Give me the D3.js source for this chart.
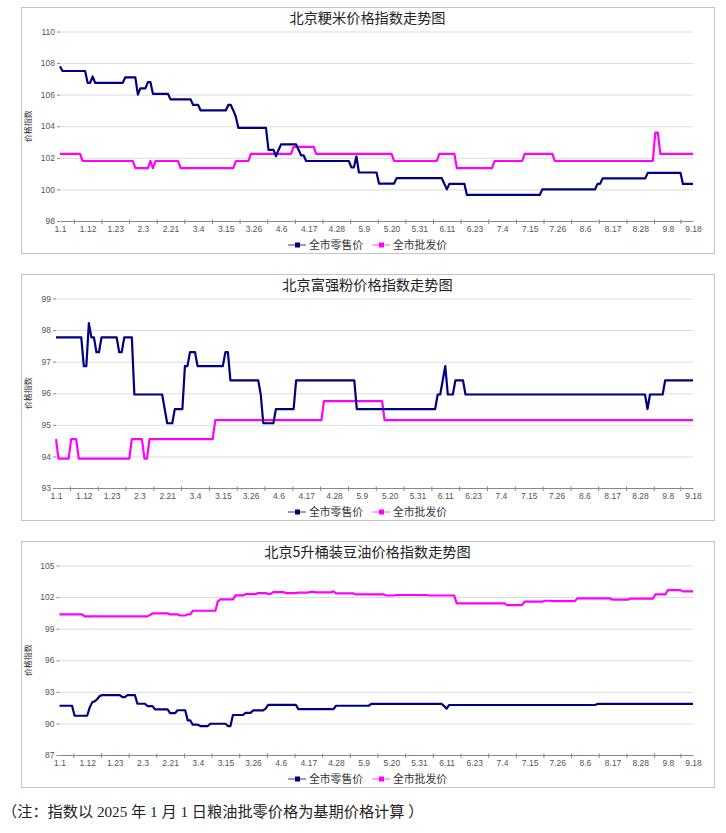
<!DOCTYPE html>
<html>
<head>
<meta charset="utf-8">
<script src="https://cdn.jsdelivr.net/npm/d3@7"></script>
<style>
  body { margin: 0; background: #fff; }
  svg { display: block; }
  .tick text { font-family: "Liberation Sans", Arial, sans-serif; }
</style>
</head>
<body>
<svg id="chart" width="726" height="833"></svg>
<script>
// x axis labels and the day index (0..252) they sit on
const tickLabels = ['1.1', '1.12', '1.23', '2.3', '2.21', '3.4', '3.15', '3.26', '4.6', '4.17', '4.28', '5.9',
  '5.20', '5.31', '6.11', '6.23', '7.4', '7.15', '7.26', '8.6', '8.17', '8.28', '9.8', '9.18'];
const tickIndex = [0, 11, 22, 33, 44, 55, 66, 77, 88, 99, 110, 121, 132, 143, 154, 165, 176, 187, 198, 209, 220, 231, 242, 252];

const seriesNames = ['全市零售价', '全市批发价'];

// series: [index value, number of days]
const riceRetail = [[107.8, 1], [107.5, 10], [106.75, 2], [107.15, 1], [106.75, 12], [107.1, 5], [106.0, 1],
  [106.4, 3], [106.8, 2], [106.05, 7], [105.7, 9], [105.35, 3], [105.0, 11], [105.35, 2], [105.0, 1], [104.6, 1],
  [103.9, 12], [102.5, 3], [102.1, 1], [102.5, 1], [102.85, 7], [102.5, 1], [102.15, 2], [101.8, 18], [101.4, 2],
  [102.1, 1], [101.07, 8], [100.37, 7], [100.71, 19], [100.35, 1], [100.0, 1], [100.35, 7], [99.65, 30],
  [100.0, 22], [100.35, 2], [100.7, 18], [101.05, 14], [100.35, 5]];
const riceWholesale = [[102.25, 9], [101.8, 21], [101.35, 6], [101.8, 1], [101.35, 1], [101.8, 10], [101.35, 22],
  [101.8, 6], [102.25, 17], [102.7, 9], [102.25, 31], [101.8, 18], [102.25, 7], [101.35, 15], [101.8, 12],
  [102.25, 12], [101.8, 40], [103.6, 2], [102.25, 14]];

const flourRetail = [[97.77, 11], [96.86, 2], [98.22, 1], [97.77, 2], [97.3, 2], [97.77, 7], [97.3, 2], [97.77, 4],
  [95.96, 12], [95.5, 1], [95.05, 3], [95.5, 4], [96.86, 2], [97.3, 3], [96.86, 11], [97.3, 2], [96.41, 12],
  [95.96, 1], [95.05, 5], [95.5, 8], [96.41, 24], [95.5, 32], [95.96, 2], [96.41, 1], [96.86, 1], [95.96, 3],
  [96.41, 4], [95.96, 72], [95.5, 1], [95.96, 6], [96.41, 12]];
const flourWholesale = [[94.55, 1], [93.93, 5], [94.55, 3], [93.93, 21], [94.55, 5], [93.93, 2], [94.55, 26],
  [95.15, 43], [95.75, 24], [95.15, 123]];

const oilRetail = [[91.68, 6], [90.73, 6], [91.5, 1], [92.0, 1], [92.1, 1], [92.3, 1], [92.6, 1], [92.69, 8],
  [92.5, 2], [92.69, 4], [91.87, 4], [91.65, 3], [91.33, 6], [90.98, 3], [91.25, 4], [90.29, 2], [89.88, 3],
  [89.75, 4], [89.97, 7], [89.75, 2], [90.8, 5], [91.0, 3], [91.23, 5], [91.4, 1], [91.77, 12], [91.36, 15],
  [91.68, 14], [91.85, 29], [91.65, 1], [91.4, 1], [91.75, 59], [91.85, 39]];
const oilWholesale = [[100.36, 10], [100.17, 26], [100.3, 1], [100.45, 7], [100.36, 4], [100.25, 3], [100.36, 2],
  [100.7, 10], [101.6, 1], [101.78, 6], [102.16, 4], [102.28, 5], [102.38, 4], [102.3, 2], [102.47, 5],
  [102.38, 5], [102.43, 5], [102.5, 2], [102.45, 7], [102.55, 1], [102.35, 8], [102.25, 12], [102.15, 4],
  [102.2, 13], [102.15, 11], [101.4, 20], [101.24, 7], [101.56, 8], [101.65, 3], [101.62, 10], [101.87, 14],
  [101.75, 7], [101.85, 10], [102.25, 5], [102.66, 6], [102.54, 5]];

const COLORS = ['#000080', '#ff00ff'];
const LEGEND_LINE = ['#7a7ab8', '#ff8cff'];

const charts = [
  { title: '北京粳米价格指数走势图', top: 7, left: 60, yTicks: [98, 100, 102, 104, 106, 108, 110], series: [riceRetail, riceWholesale] },
  { title: '北京富强粉价格指数走势图', top: 274, left: 56, yTicks: [93, 94, 95, 96, 97, 98, 99], series: [flourRetail, flourWholesale] },
  { title: '北京5升桶装豆油价格指数走势图', top: 541, left: 59.5, yTicks: [87, 90, 93, 96, 99, 102, 105], series: [oilRetail, oilWholesale] }
];

// turn [value, days] runs into one point per day
const expand = runs => runs.flatMap(([v, n]) => Array.from({ length: n }, () => v))
  .map((v, i) => ({ x: i, y: v }));

const svg = d3.select('#chart');
const FRAME_X = 21, FRAME_W = 693, FRAME_H = 246, RIGHT = 693;

charts.forEach(c => {
  const g = svg.append('g');
  const plotTop = c.top + 24.5, plotBottom = c.top + 214;

  g.append('rect')
    .attr('x', FRAME_X + 0.5).attr('y', c.top + 0.5)
    .attr('width', FRAME_W).attr('height', FRAME_H)
    .attr('fill', '#fff').attr('stroke', '#c4c4c4');

  g.append('text')
    .attr('x', FRAME_X + FRAME_W / 2).attr('y', c.top + 16)
    .attr('text-anchor', 'middle')
    .style('font-family', '"Noto Sans CJK SC", sans-serif').style('font-size', '14.2px')
    .attr('fill', '#222')
    .text(c.title);

  const xScale = d3.scaleLinear().domain([0, 252]).range([c.left, RIGHT]);
  const yScale = d3.scaleLinear().domain(d3.extent(c.yTicks)).range([plotBottom, plotTop]);

  // grid
  g.append('g')
    .attr('transform', `translate(${c.left},0)`)
    .call(d3.axisLeft(yScale).tickValues(c.yTicks).tickSize(-(RIGHT - c.left)).tickFormat(''))
    .call(s => s.select('.domain').remove())
    .call(s => s.selectAll('line').attr('stroke', '#dcdcdc'));

  // y axis labels
  g.append('g')
    .attr('transform', `translate(${c.left},0)`)
    .call(d3.axisLeft(yScale).tickValues(c.yTicks).tickSize(3).tickPadding(2).tickFormat(d3.format('d')))
    .call(s => s.select('.domain').remove())
    .call(s => s.selectAll('line').attr('stroke', '#888'))
    .call(s => s.selectAll('text').attr('fill', '#555').style('font-size', '8.5px'));

  g.append('text')
    .attr('transform', `translate(${FRAME_X + 10},${(plotTop + plotBottom) / 2}) rotate(-90)`)
    .attr('text-anchor', 'middle')
    .style('font-family', '"Noto Sans CJK SC", sans-serif').style('font-size', '8px')
    .attr('fill', '#333')
    .text('价格指数');

  // x axis: labels on the days, tick marks between them
  const mids = tickIndex.slice(1).map((t, i) => (t + tickIndex[i]) / 2);
  g.append('g')
    .attr('transform', `translate(0,${plotBottom})`)
    .call(d3.axisBottom(xScale).tickValues(mids).tickSize(3).tickSizeOuter(0).tickFormat(''))
    .call(s => s.select('.domain').attr('stroke', '#888'))
    .call(s => s.selectAll('line').attr('stroke', '#888').attr('y1', -1.5));

  g.append('g')
    .attr('transform', `translate(0,${plotBottom})`)
    .call(d3.axisBottom(xScale).tickValues(tickIndex).tickSize(0).tickPadding(5)
      .tickFormat((d, i) => tickLabels[i]))
    .call(s => s.select('.domain').remove())
    .call(s => s.selectAll('text').attr('fill', '#555').style('font-size', '8.5px'));

  const line = d3.line().x(d => xScale(d.x)).y(d => yScale(d.y));

  // wholesale drawn first so retail sits on top where they meet
  [1, 0].forEach(k => {
    g.append('path')
      .datum(expand(c.series[k]))
      .attr('fill', 'none')
      .attr('stroke', COLORS[k])
      .attr('stroke-width', 2.2)
      .attr('stroke-linejoin', 'round')
      .attr('d', line);
  });

  // legend
  const legendY = c.top + 238;
  const legendX = [288, 372];
  seriesNames.forEach((name, k) => {
    const lg = g.append('g').attr('transform', `translate(${legendX[k]},${legendY})`);
    lg.append('line').attr('x1', 0).attr('x2', 18).attr('y1', 0).attr('y2', 0)
      .attr('stroke', LEGEND_LINE[k]).attr('stroke-width', 1.5);
    lg.append('rect').attr('x', 7).attr('y', -2.5).attr('width', 5).attr('height', 5).attr('fill', COLORS[k]);
    lg.append('text').attr('x', 21).attr('y', 4)
      .style('font-family', '"Noto Sans CJK SC", sans-serif').style('font-size', '10.8px')
      .attr('fill', '#333')
      .text(name);
  });
});

svg.append('text')
  .attr('x', 2).attr('y', 817)
  .style('font-family', '"Liberation Serif", "Noto Sans CJK SC", serif').style('font-size', '15.2px')
  .attr('fill', '#222')
  .text('（注：指数以 2025 年 1 月 1 日粮油批零价格为基期价格计算 ）');
</script>
</body>
</html>
